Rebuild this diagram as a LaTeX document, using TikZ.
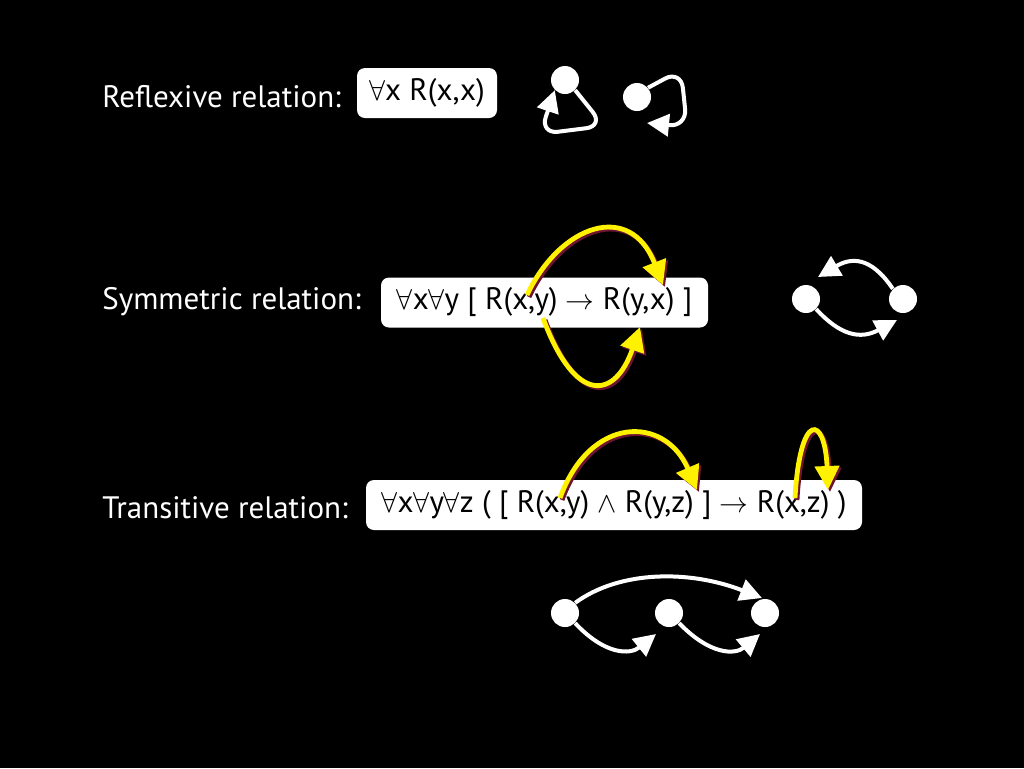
\documentclass[tikz,border=0pt]{standalone}
\usepackage{fontspec}
\setmainfont{PT Sans}
\usepackage{xcolor}
\usetikzlibrary{arrows.meta}
\definecolor{shadered}{RGB}{110,20,50}

\begin{document}
\begin{tikzpicture}[x=0.5pt,y=-0.5pt,
  every node/.style={font=\fontsize{15.5}{18}\selectfont},
  caption/.style={text=white,anchor=west,inner sep=0pt},
  formula/.style={rounded corners=4pt,fill=white,text=black,minimum height=25pt,inner sep=0pt},
  dot/.style={circle,fill=white,inner sep=0pt,minimum size=14pt},
  edge/.style={draw=white,line width=2pt,-{Triangle[length=11pt,width=11pt]}},
  hint/.style={draw=yellow,line width=2.4pt,-{Triangle[length=12pt,width=12pt]}},
  shade/.style={draw=shadered,line width=2.4pt,-{Triangle[length=12pt,width=12pt]}}]
  \fill[black] (0,0) rectangle (1024,768);

  \node[caption] (refl) at (102,97) {Reflexive relation:};
  \node[formula,minimum width=70pt] (reflf) at (427,93) {$\forall$x R(x,x)};
  \node[dot] (a) at (565,80) {};
  \node[dot] (b) at (637,97) {};
  \draw[edge,rounded corners=9pt] (a.-45) -- (604,126) -- (540,134) -- (a.225);
  \draw[edge,rounded corners=9pt] (b.40) -- (681,70) -- (687,127) -- (647,123);

  \node[caption] (symm) at (102,302) {Symmetric relation:};
  \node[formula,minimum width=163.5pt] (symmf) at (544.5,302.5)
    {$\forall$x$\forall$y [ R(x,y) $\rightarrow$ R(y,x) ]};
  \coordinate (sxy1) at (527,295);
  \coordinate (syx1) at (663,285);
  \coordinate (sxy2) at (543,318);
  \coordinate (syx2) at (640,327);
  \node[dot] (s1) at (806,299) {};
  \node[dot] (s2) at (903,299) {};
  \draw[edge] (s2.135) .. controls (870,255) and (850,258) .. (818,277);
  \draw[edge] (s1.-45) .. controls (840,335) and (860,340) .. (897,320);

  \node[caption] (trans) at (102,508) {Transitive relation:};
  \node[formula,minimum width=248pt] (transf) at (614,505)
    {$\forall$x$\forall$y$\forall$z ( [ R(x,y) $\wedge$ R(y,z) ] $\rightarrow$ R(x,z) )};
  \coordinate (txy) at (560,498);
  \coordinate (tyz) at (697,490);
  \coordinate (txz1) at (795,498);
  \coordinate (txz2) at (828,490);
  \node[dot] (t1) at (565,613) {};
  \node[dot] (t2) at (669,613) {};
  \node[dot] (t3) at (765,613) {};
  \draw[edge] (t1.45) .. controls (620,570) and (690,570) .. (762,598);
  \draw[edge] (t1.-45) .. controls (605,655) and (630,655) .. (656,634);
  \draw[edge] (t2.-45) .. controls (710,655) and (735,655) .. (760,634);

  \begin{scope}[transform canvas={xshift=1pt,yshift=-1pt}]
    \draw[shade] (sxy1) .. controls (560,225) and (630,200) .. (syx1);
    \draw[shade] (sxy2) .. controls (575,405) and (615,400) .. (syx2);
    \draw[shade] (txy) .. controls (590,415) and (665,415) .. (tyz);
    \draw[shade] (txz1) .. controls (800,410) and (825,415) .. (txz2);
  \end{scope}
  \draw[hint] (sxy1) .. controls (560,225) and (630,200) .. (syx1);
  \draw[hint] (sxy2) .. controls (575,405) and (615,400) .. (syx2);
  \draw[hint] (txy) .. controls (590,415) and (665,415) .. (tyz);
  \draw[hint] (txz1) .. controls (800,410) and (825,415) .. (txz2);
\end{tikzpicture}
\end{document}
